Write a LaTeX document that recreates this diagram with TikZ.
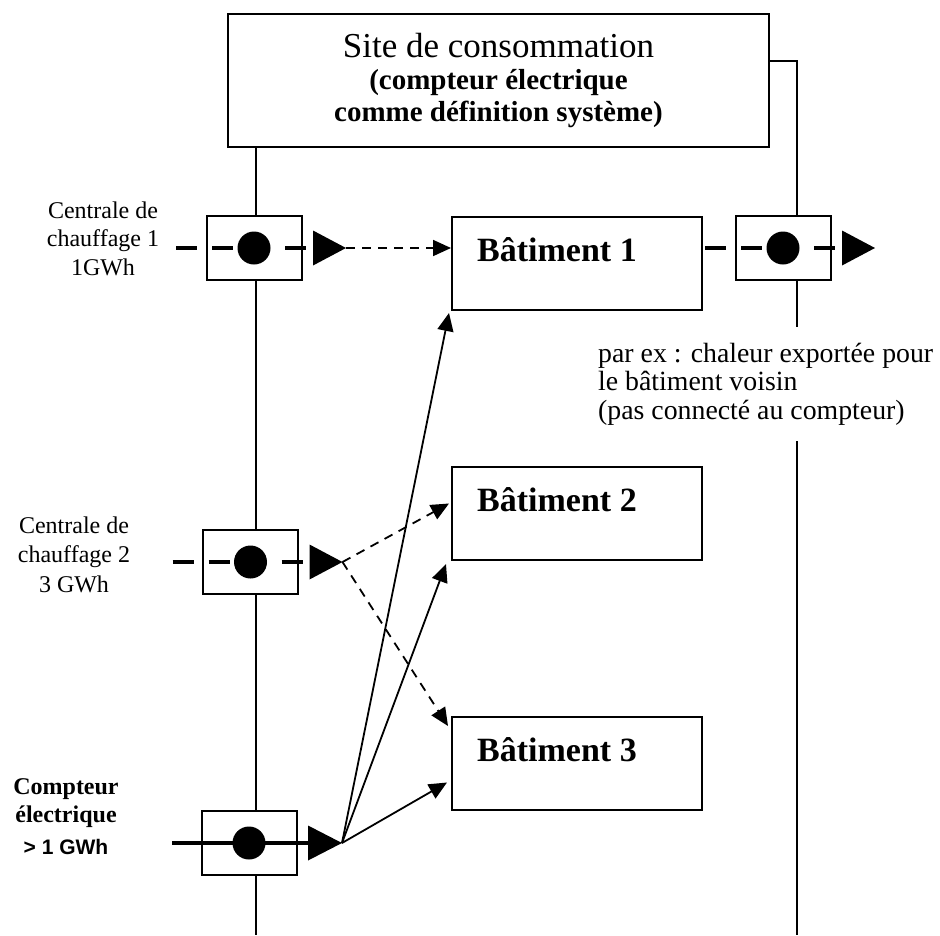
\documentclass[tikz,border=0pt]{standalone}
\usepackage{fontspec}
\setmainfont{Liberation Serif}
\setsansfont{Liberation Sans}
\usetikzlibrary{arrows.meta,calc}

\tikzset{
  ligne/.style={line width=2pt},
  bat/.style={draw, line width=2pt, minimum width=250pt, minimum height=93pt, inner sep=0pt},
  batlabel/.style={anchor=base west, inner sep=0pt, font=\fontsize{34}{38}\selectfont\bfseries},
  compteur/.style={draw, fill=white, line width=2pt, minimum width=95pt, minimum height=64pt, inner sep=0pt},
  tiret/.style={line width=4pt},
  fleche/.style={line width=1.8pt, -{Triangle[length=18pt,width=16pt]}},
  pointille/.style={fleche, dash pattern=on 9pt off 7pt},
  legende/.style={align=center, inner sep=0pt, font=\fontsize{24}{28.5}\selectfont},
}

\begin{document}
\begin{tikzpicture}[x=1pt, y=-1pt]
  \useasboundingbox (0,0) rectangle (940,935);

  % site de consommation et lignes du systeme
  \draw[ligne] (228,14) rectangle (769,147) coordinate (siteSE) node (site) [pos=.5, align=center, font=\fontsize{35}{32}\selectfont]
        {Site de consommation\\
         {\fontsize{29}{32}\selectfont\bfseries (compteur électrique}\\
         {\fontsize{29}{32}\selectfont\bfseries comme définition système)}};
  \coordinate (busL) at (256,935);
  \coordinate (busR) at (797,935);
  \draw[ligne] (siteSE -| busL) -- (busL);
  \draw[ligne] (769,61) -- (797,61) -- (busR);

  % batiments
  \node[bat] (b1) at (577,263.5) {};
  \node[bat] (b2) at (577,513.5) {};
  \node[bat] (b3) at (577,763.5) {};
  \node[batlabel] at ($(b1.north west)+(26,45)$) {Bâtiment 1};
  \node[batlabel] at ($(b2.north west)+(26,45)$) {Bâtiment 2};
  \node[batlabel] at ($(b3.north west)+(26,45)$) {Bâtiment 3};

  % compteurs
  \foreach \nom/\px/\py in {m1/254/248, m2/250.5/562, m4/783/248} {
    \node[compteur] (\nom) at (\px,\py) {};
    \draw[tiret] ($(\nom)+(-78,0)$) -- ($(\nom)+(-57,0)$)
                 ($(\nom)+(-42,0)$) -- ($(\nom)+(-21,0)$)
                 ($(\nom)+(31,0)$) -- ($(\nom)+(52,0)$);
    \fill (\nom) circle (16.5pt);
    \fill ($(\nom)+(59,-17.5)$) -- ($(\nom)+(92,0)$) -- ($(\nom)+(59,17.5)$) -- cycle;
    \coordinate (\nom-tip) at ($(\nom)+(92,0)$);
  }
  \node[compteur] (m3) at (249,843) {};
  \draw[tiret] ($(m3)+(-77,0)$) -- ($(m3)+(60,0)$);
  \fill (m3) circle (16.5pt);
  \fill ($(m3)+(59,-17.5)$) -- ($(m3)+(93,0)$) -- ($(m3)+(59,17.5)$) -- cycle;
  \coordinate (m3-tip) at ($(m3)+(93,0)$);

  % flux
  \draw[pointille] (m1-tip) -- (m1-tip -| b1.west);
  \draw[pointille] (m2-tip) -- ($(b2.west)+(-2,-10)$);
  \draw[pointille] (m2-tip) -- ($(b3.north west)+(-3,10)$);
  \draw[fleche] (m3-tip) -- ($(b1.south west)+(-2,2)$);
  \draw[fleche] (m3-tip) -- ($(b2.south west)+(-5,3)$);
  \draw[fleche] (m3-tip) -- ($(b3.west)+(-4,19)$);

  % textes
  \node[legende, anchor=north] (c1) at (103,201.6) {Centrale de\\chauffage 1\\1GWh};
  \node[legende, anchor=north, font=\fontsize{24}{29.5}\selectfont] (c2) at (74,516.6) {Centrale de\\chauffage 2\\3 GWh};
  \node[legende, anchor=north, font=\fontsize{24}{28}\selectfont\bfseries] (ce) at (66,778.5)
        {Compteur\\électrique\\[4pt]{\sffamily\fontsize{21}{24}\selectfont\bfseries > 1 GWh}};
  \node[anchor=north west, align=left, fill=white, inner xsep=0pt, inner ysep=16pt,
        font=\fontsize{27.8}{28.5}\selectfont] (note) at (598,326.6)
        {par ex : chaleur exportée pour\\le bâtiment voisin\\(pas connecté au compteur)};
\end{tikzpicture}
\end{document}
